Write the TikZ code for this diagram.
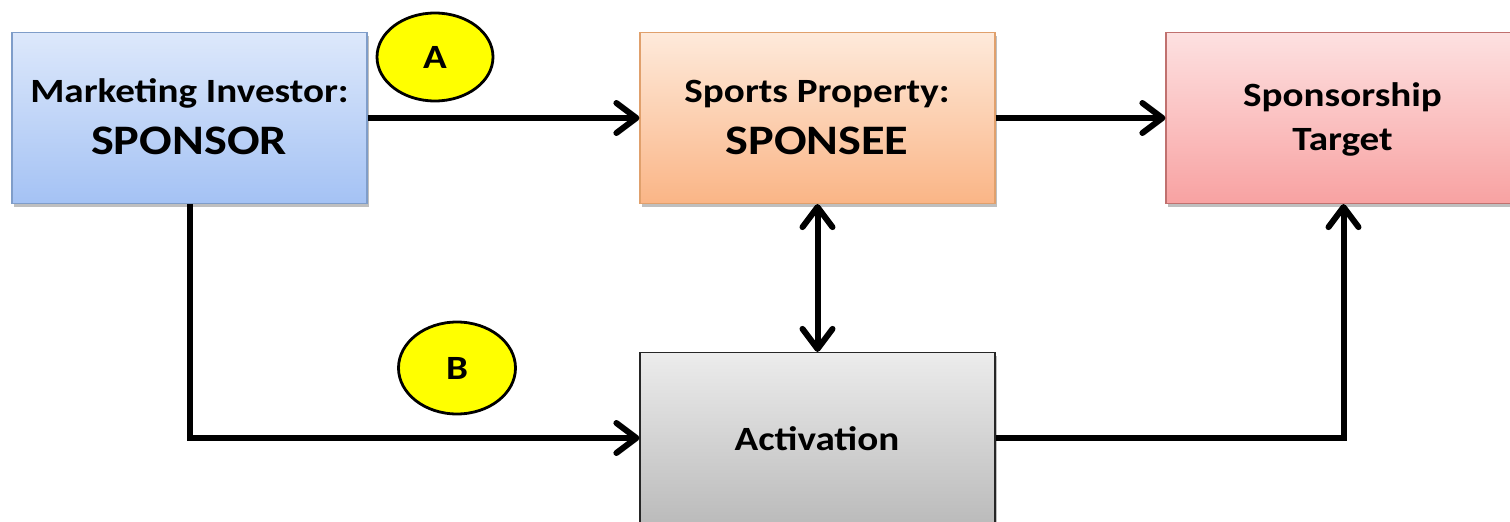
\documentclass[tikz,border=0pt]{standalone}
\usepackage{fontspec}
\setmainfont{Carlito}[FakeStretch=1.15]
\usetikzlibrary{arrows.meta,shadows,shapes.geometric}

\definecolor{sponsorTop}{HTML}{DDE8FB}
\definecolor{sponsorBot}{HTML}{A4C2F4}
\definecolor{sponsorLine}{HTML}{7F9DC9}
\definecolor{sponseeTop}{HTML}{FEEADB}
\definecolor{sponseeBot}{HTML}{FAB586}
\definecolor{sponseeLine}{HTML}{E0A06C}
\definecolor{targetTop}{HTML}{FDE1E1}
\definecolor{targetBot}{HTML}{F8A2A2}
\definecolor{targetLine}{HTML}{C0716F}
\definecolor{actTop}{HTML}{ECECEC}
\definecolor{actBot}{HTML}{BBBBBB}
\definecolor{tagYellow}{HTML}{FFFF00}

\tikzset{
  box/.style={rectangle, minimum width=355pt, minimum height=171pt, inner sep=0pt,
    line width=1.2pt,
    drop shadow={shadow xshift=2pt, shadow yshift=-3pt, fill=black, opacity=.25}},
  pathtag/.style={ellipse, draw=black, line width=2.8pt, fill=tagYellow, inner sep=0pt,
    minimum width=116pt, minimum height=88pt, font=\bfseries\fontsize{34}{36}\selectfont},
  txt/.style={anchor=base, inner sep=0pt, font=\bfseries\fontsize{34}{40}\selectfont},
  bigtxt/.style={anchor=base, inner sep=0pt, font=\bfseries\fontsize{42}{48}\selectfont},
  flow/.style={line width=6pt, -{Straight Barb[length=20pt,width=30pt,round]}},
  both/.style={line width=6pt, {Straight Barb[length=20pt,width=30pt,round]}-{Straight Barb[length=20pt,width=30pt,round]}},
}

\begin{document}
\begin{tikzpicture}[x=1pt,y=-1pt]
  \useasboundingbox (0,0) rectangle (1510,522);

  % boxes
  \node[box, draw=sponsorLine, top color=sponsorTop, bottom color=sponsorBot] (sponsor) at (189.5,118) {};
  \node[box, draw=sponseeLine, top color=sponseeTop, bottom color=sponseeBot] (sponsee) at (817.5,118) {};
  \node[box, draw=targetLine, top color=targetTop, bottom color=targetBot] (target) at (1343.5,118) {};
  \node[box, draw=black!85, top color=actTop, bottom color=actBot] (activation) at (817.5,438) {};

  % box texts
  \node[txt] (sponsorRole) at (189.5,102) {Marketing Investor:};
  \node[bigtxt] (sponsorName) at (189,154) {SPONSOR};
  \node[txt] (sponseeRole) at (817,102) {Sports Property:};
  \node[bigtxt] (sponseeName) at (817,154) {SPONSEE};
  \node[txt] (targetLineA) at (1342.5,106) {Sponsorship};
  \node[txt] (targetLineB) at (1342.5,150) {Target};
  \node[txt] (activationText) at (817,450) {Activation};

  % labels on the two paths
  \node[pathtag] (tagA) at (435,57) {A};
  \node[pathtag, minimum width=117pt, minimum height=92pt] (tagB) at (457,368) {B};

  % connectors
  \draw[flow] (sponsor.east) -- (sponsee.west);
  \draw[flow] (sponsee.east) -- (target.west);
  \draw[flow] (sponsor.south) |- (activation.west);
  \draw[both] (sponsee.south) -- (activation.north);
  \draw[flow] (activation.east) -| (target.south);
\end{tikzpicture}
\end{document}
